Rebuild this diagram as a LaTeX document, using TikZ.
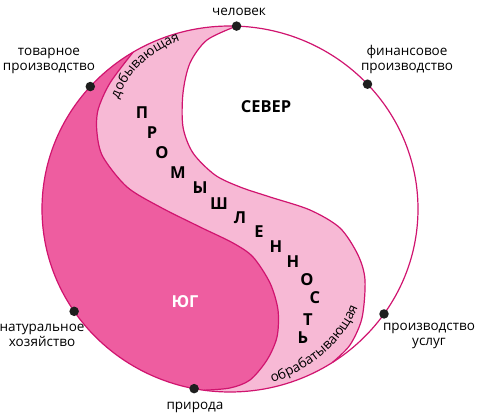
\documentclass[tikz,border=0pt]{standalone}
\usepackage{fontspec}
\setmainfont{Open Sans}
\usepackage{tikz}
\usetikzlibrary{decorations.text}
\definecolor{yug}{HTML}{EE5DA0}
\definecolor{prom}{HTML}{F7B9D5}
\definecolor{rim}{HTML}{D0146F}
\definecolor{dt}{HTML}{1E1E1E}

\begin{document}
\begin{tikzpicture}[
            x = 1pt, y = 1pt, % one unit per pixel of the picture
            line width = 1.2pt, % line style
            label/.style = {align = center, font = \fontsize{13.5}{15}\selectfont, inner sep = 0pt},
            letter/.style = {font = \fontsize{16.5}{16.5}\selectfont\bfseries, inner sep = 0pt}
        ]

        \tikzstyle{point}=[
            circle,
            fill = dt,
            minimum size = 9.5pt,
            inner sep = 0pt
        ]

        \useasboundingbox (0,0) rectangle (479,419);
        \coordinate (c) at (230,210);
        \coordinate (e88) at ([shift={(88:188 and 183)}]c);
        \coordinate (e121) at ([shift={(121:188 and 183)}]c);
        \coordinate (e262) at ([shift={(262:188 and 183)}]c);
        \coordinate (e303) at ([shift={(303:188 and 183)}]c);

        % industry band, then the south on top of it
        \fill[prom] (e88) arc[start angle = 88, end angle = 303, x radius = 188, y radius = 183]
            -- plot[smooth] coordinates {(e303) (350,74) (362,101) (365,139) (358,164) (340,191) (310,209) (270,222) (240,232) (215,244) (193,266) (183,292) (183,326) (190,356) (207,379) (e88)} -- cycle;
        \fill[yug] (e121) arc[start angle = 121, end angle = 262, x radius = 188, y radius = 183]
            -- plot[smooth] coordinates {(e262) (230,31) (250,39) (267,59) (277,82) (278,109) (270,136) (253,162) (233,176) (200,192) (160,212) (127,232) (103,262) (97,286) (98,309) (110,336) (e121)} -- cycle;

        \draw[rim] plot[smooth] coordinates {(e262) (230,31) (250,39) (267,59) (277,82) (278,109) (270,136) (253,162) (233,176) (200,192) (160,212) (127,232) (103,262) (97,286) (98,309) (110,336) (e121)};
        \draw[rim] plot[smooth] coordinates {(e303) (350,74) (362,101) (365,139) (358,164) (340,191) (310,209) (270,222) (240,232) (215,244) (193,266) (183,292) (183,326) (190,356) (207,379) (e88)};
        \draw[rim] (c) ellipse[x radius = 188, y radius = 183];

        \node[point] (chel) [at={([shift={(88:188 and 183)}]c)}] {};
        \node[point] (tov) [at={([shift={(138:188 and 183)}]c)}] {};
        \node[point] (fin) [at={([shift={(43:188 and 183)}]c)}] {};
        \node[point] (nat) [at={([shift={(214:188 and 183)}]c)}] {};
        \node[point] (prir) [at={([shift={(259:188 and 183)}]c)}] {};
        \node[point] (usl) [at={([shift={(325:188 and 183)}]c)}] {};

        \node[label] (chel-t) [at={(239,407)}] {человек};
        \node[label] (tov-t) [at={(49,358)}] {товарное\\производство};
        \node[label] (fin-t) [at={(407,359)}] {финансовое\\производство};
        \node[label] (nat-t) [at={(42,84)}] {натуральное\\хозяйство};
        \node[label] (prir-t) [at={(195,12)}] {природа};
        \node[label] (usl-t) [at={(429,83)}] {производство\\услуг};

        \node[letter] (sever) [at={(266,312)}] {СЕВЕР};
        \node[letter, text = white] (yug-t) [at={(185,117)}] {ЮГ};

        \foreach \ch/\x/\y [count = \i] in {П/142/306, Р/152/286, О/162/266, М/178/246, Ы/200/231, Ш/219/215, Л/240/201, Е/259/187, Н/276/172, Н/293/157, О/307/139, С/315/121, Т/308/99, Ь/303/81}
            \node[letter] (l\i) [at={(\x,\y)}] {\ch};

        \path[decorate, decoration = {text along path, text align = center,
            text = {|\fontsize{13.5}{13.5}\selectfont|добывающая}}]
            (117,316) .. controls (127,346) and (150,368) .. (184,380);
        \path[decorate, decoration = {text along path, text align = center,
            text = {|\fontsize{13.5}{13.5}\selectfont|обрабатывающая}}]
            (272,36) .. controls (310,49) and (343,75) .. (358,112);
    \end{tikzpicture}
\end{document}
